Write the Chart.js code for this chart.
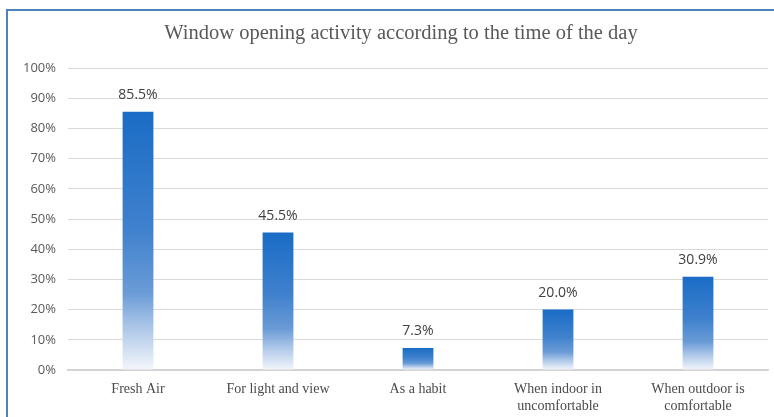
<!DOCTYPE html>
<html>
<head>
<meta charset="utf-8">
<script src="https://cdn.jsdelivr.net/npm/chart.js@4.4.0/dist/chart.umd.min.js"></script>
<style>
body{margin:0;background:#fff}
#wrap{position:relative;width:774px;height:417px;overflow:hidden}
#frame{position:absolute;left:6px;top:9px;width:800px;height:420px;border-left:2px solid #4f81bd;border-top:2px solid #4f81bd}
#chart{position:absolute;left:0;top:0}
</style>
</head>
<body>
<div id="wrap">
<div id="frame"></div>
<canvas id="chart" width="774" height="417"></canvas>
</div>
<script>
const chartTitle='Window opening activity according to the time of the day'
const reasons=[
 'Fresh Air',
 'For light and view',
 'As a habit',
 ['When indoor in','uncomfortable'],
 ['When outdoor is','comfortable']
]
const share=[85.5,45.5,7.3,20.0,30.9]
const yTicks=[0,10,20,30,40,50,60,70,80,90,100]

// each bar fades from dark blue at its top to near white at the axis
function barFill(ctx){
 const chart=ctx.chart
 if(!chart.chartArea||ctx.parsed==null) return '#2f75c8'
 const y=chart.scales.y
 const top=y.getPixelForValue(ctx.parsed.y)
 const base=y.getPixelForValue(0)
 const g=chart.ctx.createLinearGradient(0,top,0,base)
 g.addColorStop(0,'#1a6cc6')
 g.addColorStop(0.45,'#3f81cd')
 g.addColorStop(0.7,'#6a9bd6')
 g.addColorStop(0.85,'#b3cbea')
 g.addColorStop(1,'#f3f6fb')
 return g
}

// heading sits a little right of centre, over the plot area
const heading={
 id:'heading',
 afterDraw(chart){
  const c=chart.ctx
  c.save()
  c.font='20.5px "Liberation Serif", serif'
  c.fillStyle='#595959'
  c.textAlign='center'
  c.textBaseline='middle'
  c.fillText(chartTitle,401,34)
  c.restore()
 }
}

const valueLabels={
 id:'valueLabels',
 afterDatasetsDraw(chart){
  const c=chart.ctx
  const meta=chart.getDatasetMeta(0)
  c.save()
  c.font='14px "Open Sans", sans-serif'
  c.fillStyle='#404040'
  c.textAlign='center'
  c.textBaseline='middle'
  meta.data.forEach((bar,i)=>{
   c.fillText(share[i].toFixed(1)+'%',bar.x,bar.y-17)
  })
  c.restore()
 }
}

new Chart(document.getElementById('chart'),{
 type:'bar',
 data:{
  labels:reasons,
  datasets:[{
   data:share,
   backgroundColor:barFill,
   borderWidth:0,
   barPercentage:0.22,
   categoryPercentage:1
  }]
 },
 options:{
  responsive:false,
  animation:false,
  layout:{padding:{left:0,right:6,top:68,bottom:0}},
  plugins:{
   legend:{display:false},
   tooltip:{enabled:false},
   title:{display:false}
  },
  scales:{
   x:{
    grid:{display:false,drawTicks:false,tickLength:0},
    border:{color:'#d0d0d0',width:1.5},
    ticks:{
     color:'#4a4a4a',
     font:{family:'"Liberation Serif", serif',size:14,lineHeight:1.2},
     padding:11,
     maxRotation:0,
     autoSkip:false
    },
    afterFit(s){s.height=47}
   },
   y:{
    min:0,
    max:100,
    afterBuildTicks(s){s.ticks=yTicks.map(v=>({value:v}))},
    grid:{color:'#d9d9d9',lineWidth:1,drawTicks:false},
    border:{display:false},
    ticks:{
     color:'#595959',
     font:{family:'"Open Sans", sans-serif',size:13},
     padding:12,
     callback:v=>v+'%'
    },
    afterFit(s){s.width=68}
   }
  }
 },
 plugins:[heading,valueLabels]
})
</script>
</body>
</html>
